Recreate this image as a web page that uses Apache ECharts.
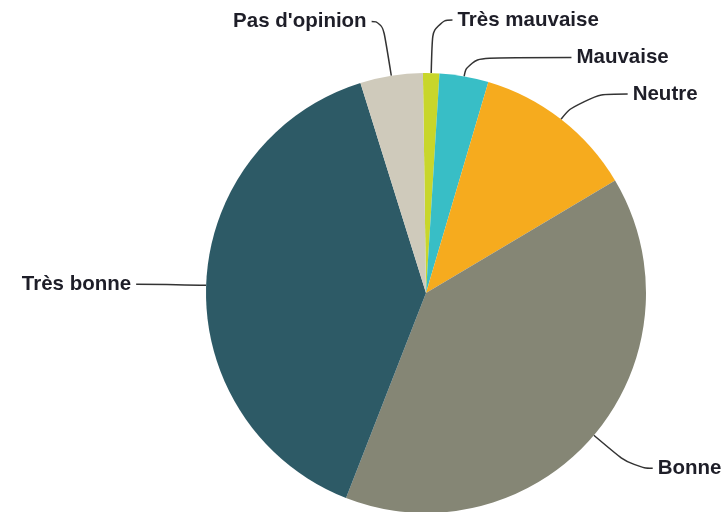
<!DOCTYPE html>
<html>
<head>
<meta charset="utf-8">
<script src="https://cdn.jsdelivr.net/npm/echarts@6/dist/echarts.min.js"></script>
<style>
html,body{margin:0;padding:0;background:#fff;}
#chart{width:728px;height:512px;}
</style>
</head>
<body>
<div id="chart"></div>
<script>
const categories = ['Très mauvaise', 'Mauvaise', 'Neutre', 'Bonne', 'Très bonne', "Pas d'opinion"];
const values = [1.2, 3.6, 11.9, 39.5, 39.3, 4.6];
const colors = ['#c8d62b', '#38bec6', '#f6ab1e', '#858675', '#2d5a66', '#cfcabb'];
const lineLen1 = [53, 19, 32, 51, 30, 55];
const lineLen2 = [20, 104, 47, 20, 40, 11];

const data = categories.map((name, i) => ({
  name: name,
  value: values[i],
  itemStyle: { color: colors[i] },
  labelLine: { length: lineLen1[i], length2: lineLen2[i] }
}));

const chart = echarts.init(document.getElementById('chart'), null, { renderer: 'canvas' });
chart.setOption({
  animation: false,
  backgroundColor: '#ffffff',
  series: [{
    type: 'pie',
    center: [426, 293],
    radius: 220,
    startAngle: 90.8,
    clockwise: true,
    avoidLabelOverlap: false,
    minShowLabelAngle: 0,
    data: data,
    itemStyle: { borderWidth: 0 },
    label: {
      show: true,
      position: 'outside',
      color: '#1e1e28',
      fontFamily: 'Liberation Sans, Arial, sans-serif',
      fontWeight: 'bold',
      fontSize: 20.5,
      distanceToLabelLine: 5
    },
    labelLine: {
      show: true,
      smooth: 0.6,
      lineStyle: { color: '#333333', width: 1.5 }
    },
    emphasis: { disabled: true }
  }]
});
</script>
</body>
</html>
